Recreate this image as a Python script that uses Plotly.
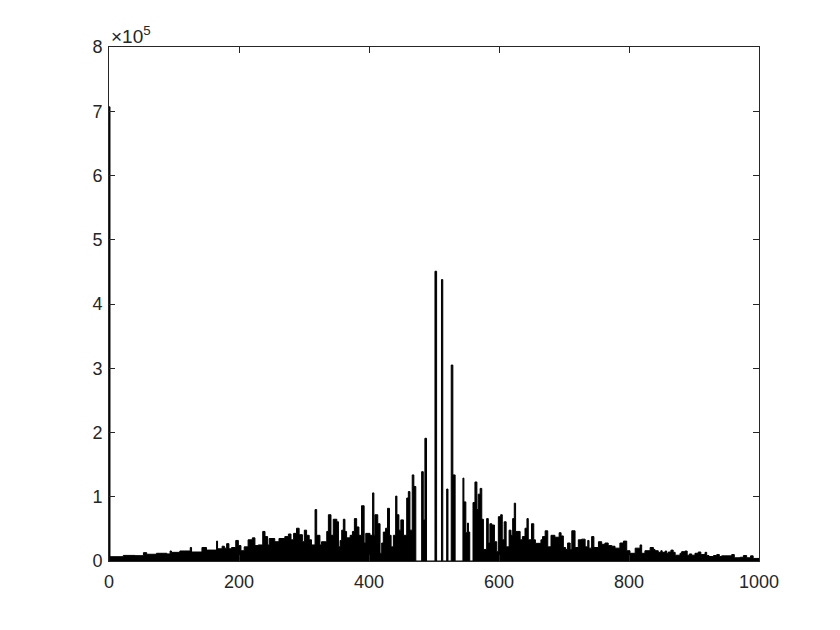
import plotly.graph_objects as go

# Piecewise spectrum: segment edges (x units) and heights (x 1e5)
edges = [0.5, 1.5, 22, 40, 53, 58, 73, 89, 94, 96, 109, 125, 127, 143, 150, 163, 165.5, 167, 174, 177.5,
         181, 184.5, 188.5, 195, 199, 203, 208, 214, 220.5, 224.5, 229.5, 236.5, 240, 244, 246.5, 255,
         261.5, 270.5, 276, 280, 284, 288.5, 292.5, 297.5, 300.5, 304, 308, 311.5, 317, 319.5, 324.5,
         327, 332.5, 335, 337.5, 341.5, 345, 350.5, 353, 355.5, 358, 360.5, 363, 365.5, 371, 374.5,
         377.5, 381, 384.5, 388.5, 392.5, 395, 401.5, 405.5, 407.5, 409, 413.5, 417, 419.5, 422, 425.5,
         428.5, 431.5, 434, 437.5, 441, 443, 446, 449, 453, 458, 460.5, 463, 466.5, 469, 472, 481,
         483.5, 486, 488.5, 501.5, 504, 511.5, 513.5, 519.5, 521.5, 526.5, 529, 532.5, 544.5, 546,
         549, 551.5, 553, 555, 560, 563, 566, 568, 571, 573.5, 576, 581, 583.5, 586, 589, 593, 596.5,
         599, 602.5, 605, 608, 611, 615.5, 618.5, 621, 623.5, 625.5, 632.5, 636, 640, 643, 645, 650,
         653.5, 656, 664.5, 667, 671, 675, 680, 686, 692.5, 695.5, 699, 702.5, 705.5, 709.5, 712, 717,
         722, 727, 732.5, 736.5, 738.5, 742.5, 746, 753, 758, 763, 768, 773.5, 778.5, 786, 791.5,
         796.5, 801.5, 809.5, 817, 819.5, 824.5, 832.5, 837.5, 840, 845, 849, 851, 855.5, 858, 860.5,
         864.5, 868, 871, 878.5, 881, 886, 889.5, 893, 896.5, 901.5, 906.5, 910.5, 917, 919.5, 923,
         930, 935, 939, 942.5, 958, 962, 971, 976, 981, 987, 991, 1000]

magnitude_e5 = [7.07, 0.067, 0.087, 0.083, 0.13, 0.105, 0.12, 0.11, 0.156, 0.135, 0.156, 0.21, 0.14, 0.21,
                0.17, 0.17, 0.31, 0.19, 0.23, 0.20, 0.27, 0.19, 0.21, 0.32, 0.24, 0.16, 0.22, 0.33, 0.36,
                0.24, 0.25, 0.46, 0.38, 0.25, 0.35, 0.30, 0.35, 0.38, 0.42, 0.33, 0.43, 0.51, 0.41, 0.30,
                0.48, 0.40, 0.33, 0.25, 0.80, 0.40, 0.25, 0.30, 0.30, 0.46, 0.72, 0.40, 0.65, 0.61, 0.22,
                0.32, 0.48, 0.65, 0.46, 0.36, 0.40, 0.46, 0.66, 0.53, 0.40, 0.86, 0.28, 0.43, 0.40, 1.06,
                0.40, 0.72, 0.58, 0.12, 0.28, 0.45, 0.51, 0.82, 0.40, 0.22, 0.40, 1.01, 0.72, 0.48, 0.64,
                0.40, 0.98, 1.08, 0.48, 1.34, 1.16, 0.0, 1.39, 0.64, 1.91, 0.0, 4.51, 0.0, 4.38, 0.0, 1.12,
                0.0, 3.05, 1.34, 0.0, 1.29, 0.92, 0.44, 0.59, 0.45, 0.0, 0.91, 1.23, 0.80, 1.04, 1.13,
                0.65, 0.18, 0.66, 0.28, 0.58, 0.56, 0.30, 0.145, 0.69, 0.72, 0.33, 0.61, 0.22, 0.48, 0.40,
                0.66, 0.90, 0.46, 0.33, 0.38, 0.51, 0.66, 0.33, 0.58, 0.33, 0.275, 0.33, 0.38, 0.47, 0.22,
                0.40, 0.37, 0.44, 0.39, 0.21, 0.18, 0.28, 0.18, 0.47, 0.21, 0.33, 0.34, 0.22, 0.32, 0.20,
                0.38, 0.21, 0.30, 0.26, 0.28, 0.24, 0.23, 0.20, 0.28, 0.31, 0.16, 0.12, 0.20, 0.25, 0.12,
                0.16, 0.21, 0.18, 0.16, 0.135, 0.16, 0.135, 0.155, 0.12, 0.14, 0.17, 0.135, 0.09, 0.12,
                0.145, 0.155, 0.09, 0.11, 0.09, 0.12, 0.14, 0.10, 0.135, 0.085, 0.07, 0.085, 0.10, 0.07,
                0.08, 0.10, 0.05, 0.058, 0.085, 0.05, 0.08, 0.04]

x_ticks = [0, 200, 400, 600, 800, 1000]
y_ticks = [0, 1, 2, 3, 4, 5, 6, 7, 8]
scale = 1e5

# Step outline of the bars: each segment holds its height until the next edge
step_x = [edges[0]] + list(edges)
step_y = [0] + [v * scale for v in magnitude_e5] + [0]

axis_col = "#262626"
font = dict(family="Liberation Sans, Arial, sans-serif", size=18, color=axis_col)

fig = go.Figure()
fig.add_trace(go.Scatter(
    x=step_x, y=step_y, mode="lines", line=dict(color="black", width=1, shape="hv"),
    fill="tozeroy", fillcolor="black", showlegend=False, hoverinfo="skip",
))

fig.update_layout(
    width=840, height=630,
    margin=dict(l=101, r=89, t=39, b=77),
    paper_bgcolor="white", plot_bgcolor="white",
    font=font,
    xaxis=dict(range=[0, 1000], tickvals=x_ticks, ticktext=[str(t) for t in x_ticks],
               showgrid=False, zeroline=False, showline=True, linecolor=axis_col, linewidth=1,
               mirror="ticks", ticks="inside", ticklen=6, tickcolor=axis_col, tickwidth=1,
               tickfont=font, ticklabelstandoff=4),
    yaxis=dict(range=[0, 8 * scale], tickvals=[t * scale for t in y_ticks],
               ticktext=[str(t) for t in y_ticks],
               showgrid=False, zeroline=False, showline=True, linecolor=axis_col, linewidth=1,
               mirror="ticks", ticks="inside", ticklen=6, tickcolor=axis_col, tickwidth=1,
               tickfont=font, ticklabelstandoff=2),
    annotations=[dict(text="\u00d710<sup>5</sup>", xref="paper", yref="paper", x=0, y=1,
                      xanchor="left", yanchor="bottom", showarrow=False,
                      font=dict(family=font["family"], size=19, color=axis_col), yshift=-2)],
)

fig.write_html("out.html")
